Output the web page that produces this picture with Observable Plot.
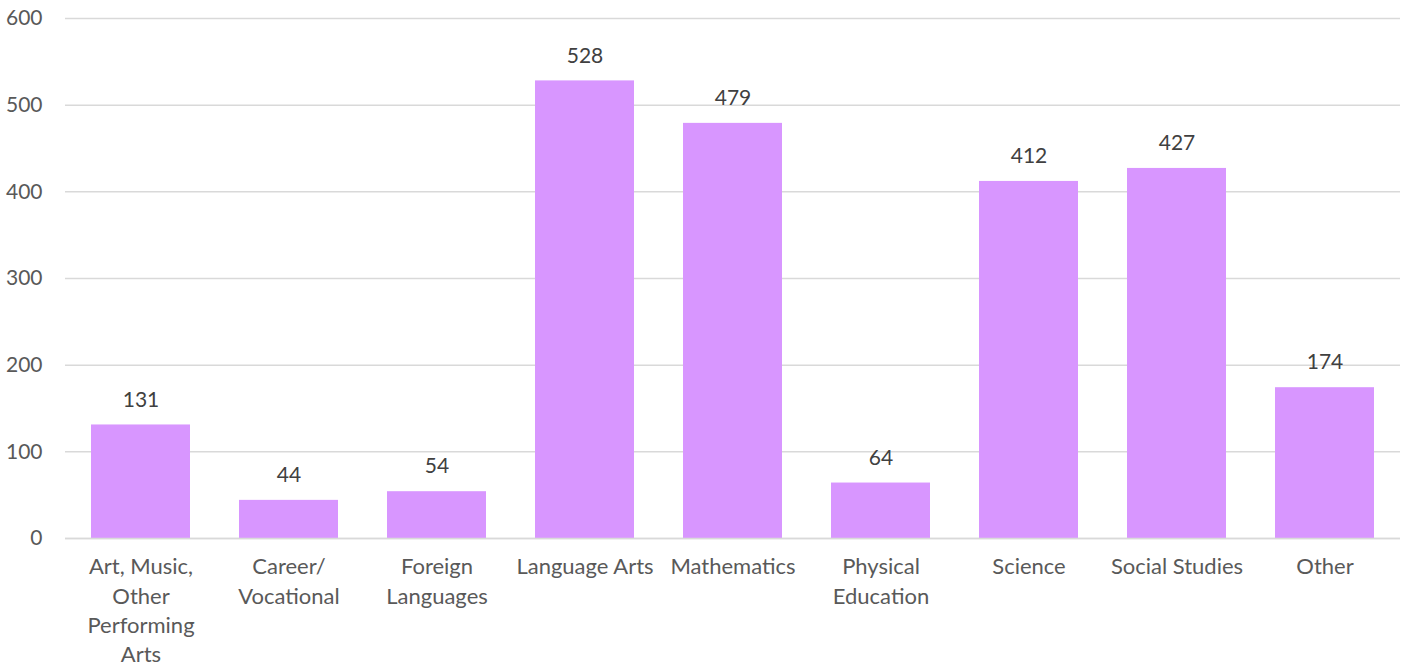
<!DOCTYPE html>
<html>
<head>
<meta charset="utf-8">
<script src="https://cdn.jsdelivr.net/npm/d3@7"></script>
<script src="https://cdn.jsdelivr.net/npm/@observablehq/plot@0.6"></script>
<style>
  html, body { margin: 0; padding: 0; background: #fff; }
  #chart svg { display: block; }
</style>
</head>
<body>
<div id="chart"></div>
<script>
const categories = ["Art, Music, Other Performing Arts", "Career/Vocational", "Foreign Languages", "Language Arts", "Mathematics", "Physical Education", "Science", "Social Studies", "Other"];
const tickLabels = ["Art, Music,\nOther\nPerforming\nArts", "Career/\nVocational", "Foreign\nLanguages", "Language Arts", "Mathematics", "Physical\nEducation", "Science", "Social Studies", "Other"];
const values = [131, 44, 54, 528, 479, 64, 412, 427, 174];
const yTicks = [0, 100, 200, 300, 400, 500, 600];

const data = categories.map((c, i) => ({category: c, value: values[i]}));
const labelOf = new Map(categories.map((c, i) => [c, tickLabels[i]]));

const chart = Plot.plot({
  width: 1403,
  height: 668,
  marginTop: 18,
  marginBottom: 130,
  marginLeft: 65,
  marginRight: 3,
  style: {fontFamily: "Lato, 'Open Sans', sans-serif", fontSize: "20px", background: "#fff"},
  x: {domain: categories, paddingInner: 0.33, paddingOuter: 0.165, label: null},
  y: {domain: [0, 600], ticks: yTicks, label: null},
  marks: [
    Plot.gridY(yTicks, {stroke: "#d9d9d9", strokeOpacity: 1, strokeWidth: 1.5}),
    Plot.barY(data, {x: "category", y: "value", fill: "#d896ff"}),
    Plot.text(data, {x: "category", y: "value", text: d => String(d.value), dy: -25, fill: "#404040", fontSize: 21}),
    Plot.axisY(yTicks, {tickSize: 0, tickPadding: 23, fill: "#595959", fontSize: 21, label: null}),
    Plot.axisX({tickSize: 0, tickPadding: 15, fill: "#595959", fontSize: 22, lineHeight: 1.33, textAnchor: "middle", lineAnchor: "top", tickFormat: d => labelOf.get(d), label: null}),
    Plot.ruleY([0], {stroke: "#d9d9d9", strokeWidth: 1.5})
  ]
});
document.getElementById("chart").appendChild(chart);
</script>
</body>
</html>
